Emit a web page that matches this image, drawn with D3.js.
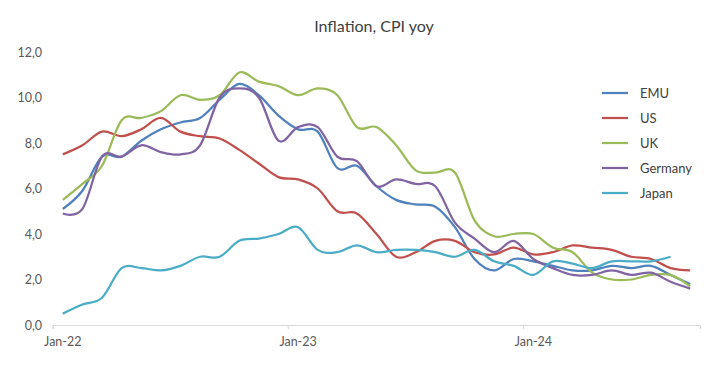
<!DOCTYPE html>
<html>
<head>
<meta charset="utf-8">
<script src="https://cdnjs.cloudflare.com/ajax/libs/d3/7.8.5/d3.min.js"></script>
<style>
  html, body { margin: 0; padding: 0; background: #fff; }
  svg { display: block; font-family: Lato, "Open Sans", sans-serif; }
</style>
</head>
<body>
<svg id="chart" width="720" height="365"></svg>
<script>
const months = [
  "Jan-22","Feb-22","Mar-22","Apr-22","May-22","Jun-22","Jul-22","Aug-22","Sep-22","Oct-22","Nov-22","Dec-22",
  "Jan-23","Feb-23","Mar-23","Apr-23","May-23","Jun-23","Jul-23","Aug-23","Sep-23","Oct-23","Nov-23","Dec-23",
  "Jan-24","Feb-24","Mar-24","Apr-24","May-24","Jun-24","Jul-24","Aug-24","Sep-24"
];
const xTickLabels = ["Jan-22","Jan-23","Jan-24"];
const yTicks = [0, 2, 4, 6, 8, 10, 12];
const seriesNames = ["EMU","US","UK","Germany","Japan"];

const emu = [5.1,5.9,7.4,7.4,8.1,8.6,8.9,9.1,9.9,10.6,10.1,9.2,
             8.6,8.5,6.9,7.0,6.1,5.5,5.3,5.2,4.3,2.9,2.4,2.9,
             2.8,2.6,2.4,2.4,2.6,2.5,2.6,2.2,1.8];
const us = [7.5,7.9,8.5,8.3,8.6,9.1,8.5,8.3,8.2,7.7,7.1,6.5,
            6.4,6.0,5.0,4.9,4.0,3.0,3.2,3.7,3.7,3.2,3.1,3.4,
            3.1,3.2,3.5,3.4,3.3,3.0,2.9,2.5,2.4];
const uk = [5.5,6.2,7.0,9.0,9.1,9.4,10.1,9.9,10.1,11.1,10.7,10.5,
            10.1,10.4,10.1,8.7,8.7,7.9,6.8,6.7,6.7,4.6,3.9,4.0,
            4.0,3.4,3.2,2.3,2.0,2.0,2.2,2.2,1.7];
const germany = [4.9,5.1,7.4,7.4,7.9,7.6,7.5,7.9,10.0,10.4,10.0,8.1,
                 8.7,8.7,7.4,7.2,6.1,6.4,6.2,6.1,4.5,3.8,3.2,3.7,
                 2.9,2.5,2.2,2.2,2.4,2.2,2.3,1.9,1.6];
const japan = [0.5,0.9,1.2,2.5,2.5,2.4,2.6,3.0,3.0,3.7,3.8,4.0,
               4.3,3.3,3.2,3.5,3.2,3.3,3.3,3.2,3.0,3.3,2.8,2.6,
               2.2,2.8,2.7,2.5,2.8,2.8,2.8,3.0];

const colors = ["#4F81BD","#C0504D","#9BBB59","#8064A2","#4BACC6"];
const seriesValues = [emu, us, uk, germany, japan];

const svg = d3.select("#chart");

const x = d3.scaleBand().domain(months).range([53, 700]).padding(0);
const y = d3.scaleLinear().domain([0, 12]).range([325, 52]);
const bw = x.bandwidth();

// title
svg.append("text")
  .attr("x", 374).attr("y", 32)
  .attr("text-anchor", "middle")
  .attr("font-size", 16)
  .attr("fill", "#404040")
  .text("Inflation, CPI yoy");

// y axis (labels only)
const yAxis = svg.append("g")
  .attr("transform", "translate(53,0)")
  .call(d3.axisLeft(y).tickValues(yTicks).tickSize(0).tickPadding(11)
        .tickFormat(d => d3.format(".1f")(d).replace(".", ",")));
yAxis.select(".domain").remove();
yAxis.selectAll("text").attr("font-size", 12.5).attr("fill", "#595959").attr("font-family", "Lato, sans-serif");

// x axis
const xAxis = svg.append("g")
  .attr("transform", "translate(0,325)")
  .call(d3.axisBottom(x).tickValues(xTickLabels).tickSize(4).tickPadding(8));
xAxis.select(".domain").attr("stroke", "#d9d9d9").attr("stroke-width", 1);
xAxis.selectAll(".tick line").attr("stroke", "#d9d9d9").attr("x1", -bw/2).attr("x2", -bw/2);
xAxis.selectAll("text").attr("font-size", 12.5).attr("fill", "#595959").attr("font-family", "Lato, sans-serif");

// lines
const line = d3.line()
  .x((d, i) => x(months[i]) + bw / 2)
  .y(d => y(d))
  .curve(d3.curveCatmullRom.alpha(0));

const g = svg.append("g");
seriesValues.forEach((vals, k) => {
  g.append("path")
    .datum(vals)
    .attr("fill", "none")
    .attr("stroke", colors[k])
    .attr("stroke-width", 2.25)
    .attr("stroke-linejoin", "round")
    .attr("d", line);
});

// legend
const legend = svg.append("g");
seriesNames.forEach((name, k) => {
  const ly = 93 + k * 25;
  legend.append("line")
    .attr("x1", 602).attr("x2", 628)
    .attr("y1", ly).attr("y2", ly)
    .attr("stroke", colors[k]).attr("stroke-width", 2.25);
  legend.append("text")
    .attr("x", 640).attr("y", ly)
    .attr("dy", "0.35em")
    .attr("font-size", 13)
    .attr("fill", "#404040")
    .text(name);
});
</script>
</body>
</html>
